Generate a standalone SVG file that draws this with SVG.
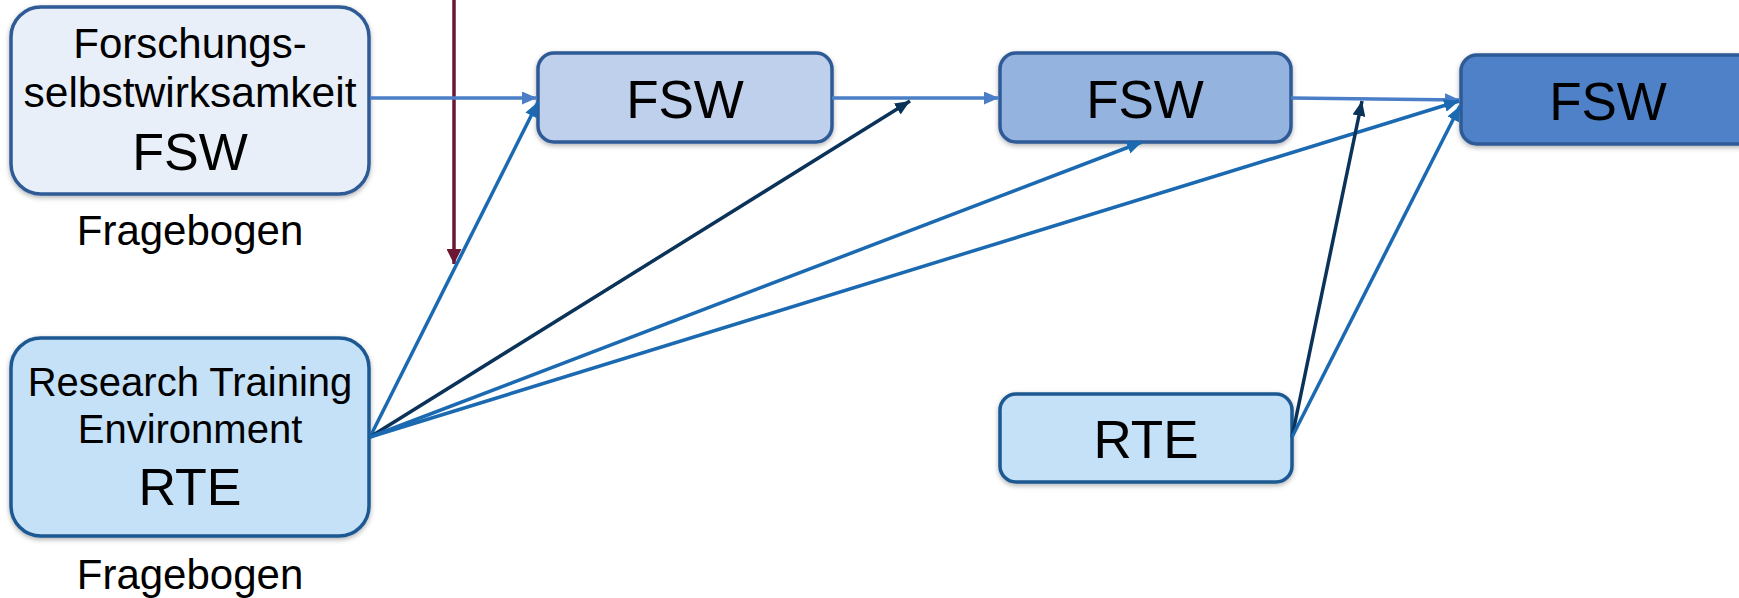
<svg xmlns="http://www.w3.org/2000/svg" width="1739" height="598" viewBox="0 0 1739 598">
<defs>
<filter id="sh" x="-10%" y="-10%" width="120%" height="130%">
<feDropShadow dx="0" dy="2" stdDeviation="2.5" flood-color="#000" flood-opacity="0.3"/>
</filter>
<marker id="aMid" viewBox="0 0 15 13" refX="15" refY="6.5" markerWidth="15" markerHeight="13" markerUnits="userSpaceOnUse" orient="auto"><path d="M0,0 L15,6.5 L0,13 z" fill="#4A7EC6"/></marker>
<marker id="aBlue" viewBox="0 0 15 13" refX="15" refY="6.5" markerWidth="15" markerHeight="13" markerUnits="userSpaceOnUse" orient="auto"><path d="M0,0 L15,6.5 L0,13 z" fill="#1B6AB1"/></marker>
<marker id="aDark" viewBox="0 0 15 13" refX="15" refY="6.5" markerWidth="15" markerHeight="13" markerUnits="userSpaceOnUse" orient="auto"><path d="M0,0 L15,6.5 L0,13 z" fill="#0B3359"/></marker>
<marker id="aRed" viewBox="0 0 15 15" refX="15" refY="7.5" markerWidth="15" markerHeight="15" markerUnits="userSpaceOnUse" orient="auto"><path d="M0,0 L15,7.5 L0,15 z" fill="#6B1734"/></marker>
</defs>
<style>
text{font-family:"Liberation Sans",Arial,sans-serif;fill:#000;text-anchor:middle}
.box{stroke-width:3.5;filter:url(#sh)}
.fsw{stroke:#2F5A96}
.rte{stroke:#1D5891;fill:#C4E1F8}
.mid{stroke:#4A7EC6;stroke-width:3.5;fill:none}
.blue{stroke:#1B6AB1;stroke-width:3.5;fill:none}
.dark{stroke:#0B3359;stroke-width:3.5;fill:none}
.red{stroke:#6B1734;stroke-width:3.5;fill:none}
</style>
<g id="n-fsw1">
<rect class="box fsw" x="11" y="7" width="358" height="187" rx="30" fill="#E8EFF9"/>
<text x="190" y="58" font-size="42">Forschungs-</text>
<text x="190" y="107" font-size="42.5">selbstwirksamkeit</text>
<text x="190" y="170" font-size="52">FSW</text>
</g>
<g id="n-frage1"><text x="190" y="245" font-size="42">Fragebogen</text></g>
<g id="n-rte1">
<rect class="box rte" x="11" y="338" width="358" height="198" rx="30"/>
<text x="190" y="396" font-size="40">Research Training</text>
<text x="190" y="443" font-size="40">Environment</text>
<text x="190" y="505" font-size="52">RTE</text>
</g>
<g id="n-frage2"><text x="190" y="589" font-size="42">Fragebogen</text></g>
<g id="n-fsw2">
<rect class="box fsw" x="538" y="53" width="294" height="89" rx="16" fill="#BED0EB"/>
<text x="685" y="118" font-size="53">FSW</text>
</g>
<g id="n-fsw3">
<rect class="box fsw" x="1000" y="53" width="291" height="89" rx="16" fill="#95B3DF"/>
<text x="1145" y="118" font-size="53">FSW</text>
</g>
<g id="n-fsw4">
<rect class="box fsw" x="1461" y="55" width="294" height="89" rx="16" fill="#4F81C8"/>
<text x="1608" y="120" font-size="53">FSW</text>
</g>
<g id="n-rte2">
<rect class="box rte" x="1000" y="394" width="292" height="88" rx="16"/>
<text x="1146" y="458" font-size="53">RTE</text>
</g>
<g id="connectors">
<line class="red" x1="454" y1="0" x2="454" y2="264" marker-end="url(#aRed)"/>
<line class="mid" x1="370" y1="98" x2="537" y2="98" marker-end="url(#aMid)"/>
<line class="mid" x1="832" y1="98" x2="999" y2="98" marker-end="url(#aMid)"/>
<line class="mid" x1="1291" y1="98" x2="1460" y2="100" marker-end="url(#aMid)"/>
<line class="blue" x1="370" y1="437" x2="538" y2="102" marker-end="url(#aBlue)"/>
<line class="dark" x1="370" y1="437" x2="910" y2="101" marker-end="url(#aDark)"/>
<line class="blue" x1="370" y1="437" x2="1142" y2="142" marker-end="url(#aBlue)"/>
<line class="blue" x1="370" y1="437" x2="1459" y2="101" marker-end="url(#aBlue)"/>
<line class="dark" x1="1292" y1="437" x2="1362" y2="101" marker-end="url(#aDark)"/>
<line class="blue" x1="1292" y1="437" x2="1460" y2="106" marker-end="url(#aBlue)"/>
</g>
</svg>
